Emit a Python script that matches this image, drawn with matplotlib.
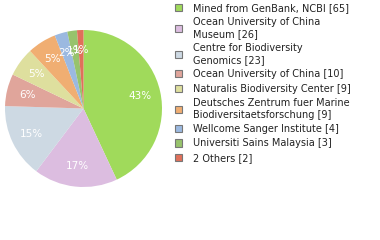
import matplotlib
matplotlib.use("Agg")
import matplotlib.pyplot as plt

# Specimen depositories and record counts
labels = [
    "Mined from GenBank, NCBI [65]",
    "Ocean University of China\nMuseum [26]",
    "Centre for Biodiversity\nGenomics [23]",
    "Ocean University of China [10]",
    "Naturalis Biodiversity Center [9]",
    "Deutsches Zentrum fuer Marine\nBiodiversitaetsforschung [9]",
    "Wellcome Sanger Institute [4]",
    "Universiti Sains Malaysia [3]",
    "2 Others [2]",
]
counts = [65, 26, 23, 10, 9, 9, 4, 3, 2]
colors = ["#a0da5b", "#dcbde0", "#cdd9e3", "#e0a59b", "#dedf9e",
          "#f0ae72", "#9bb9e0", "#97c36c", "#e0705a"]

total = sum(counts)

fig = plt.figure(figsize=(3.8, 2.4), dpi=100)
ax = fig.add_axes([5 / 380, 1 - 187 / 240, 157 / 380, 157 / 240])

wedges, texts, autotexts = ax.pie(
    counts, colors=colors, startangle=90, counterclock=False,
    autopct=lambda p: "%d%%" % int(p + 1e-9),
    pctdistance=0.74, wedgeprops=dict(linewidth=0),
    textprops=dict(color="white", fontsize=7.5),
)
ax.set_xlim(-1, 1)
ax.set_ylim(-1, 1)
ax.set_aspect("equal")

handles = [plt.Rectangle((0, 0), 1, 1, facecolor=c, edgecolor="#777777", linewidth=0.8)
           for c in colors]
leg = fig.legend(handles, labels, loc="upper left", bbox_to_anchor=(175 / 380, 1 - 3 / 240),
                 frameon=False, fontsize=7, handlelength=0.75, handleheight=0.75,
                 handletextpad=1.1, labelspacing=0.45, borderaxespad=0, borderpad=0)
for t in leg.get_texts():
    t.set_color("#222222")

fig.savefig("out.png", dpi=100)
